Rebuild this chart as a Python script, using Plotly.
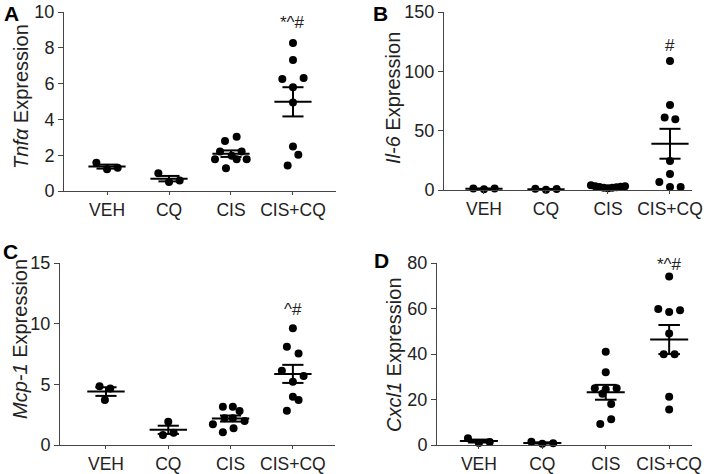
import numpy as np
import plotly.graph_objects as go

W, H = 714, 474

groups = ['VEH', 'CQ', 'CIS', 'CIS+CQ']

# panel A - Tnfa
tnfa_veh = [1.58, 1.21, 1.30]
tnfa_cq = [0.99, 0.50, 0.58]
tnfa_cis = [2.79, 3.03, 2.20, 2.20, 1.97, 1.77, 1.77, 1.77, 1.27]
tnfa_ciscq = [8.27, 7.32, 6.26, 6.31, 5.79, 4.95, 2.48, 2.03, 1.43]

# panel B - Il-6
il6_veh = [1.2, 0.6, 1.2]
il6_cq = [1.0, 0.3, 0.8]
il6_cis = [4.0, 3.2, 2.6, 2.0, 1.5, 1.8, 2.4, 2.8, 3.2]
il6_ciscq = [108.7, 71.6, 61.2, 59.6, 24.4, 13.5, 6.7, 2.5, 2.5]

# panel C - Mcp-1
mcp1_veh = [4.85, 4.66, 3.70]
mcp1_cq = [1.92, 0.82, 1.01]
mcp1_cis = [3.16, 3.16, 2.80, 1.70, 2.20, 2.20, 1.98, 1.05, 1.38]
mcp1_ciscq = [9.62, 8.09, 7.54, 6.11, 5.21, 5.68, 3.98, 3.70, 2.82]

# panel D - Cxcl1
cxcl1_veh = [3.0, 0.9, 1.3]
cxcl1_cq = [1.4, 0.5, 0.8]
cxcl1_cis = [41.0, 32.0, 25.0, 24.5, 25.0, 22.5, 18.0, 11.3, 9.2]
cxcl1_ciscq = [74.1, 59.8, 58.5, 59.2, 49.0, 39.9, 39.9, 21.2, 15.6]

# horizontal spread of the dots (in dot widths)
jit_a = [[-1, 0, 1], [-1, 0, 1],
         [-0.56, 0.53, -1.03, 1.0, 0.07, -1.5, 0.53, 1.47, -0.47],
         [0, 0, -1, 1, 0, 0, 0, 0.5, -0.5]]
jit_b = [[-1, 0, 1], [-1, 0, 1],
         [-1.6, -1.2, -0.8, -0.4, 0, 0.4, 0.8, 1.2, 1.6],
         [0, 0, -0.5, 0.5, 0, 0, -1, 0, 1]]
jit_c = [[-0.6, 0.4, -0.1], [0, -0.5, 0.5],
         [-0.72, 0.21, 0.84, -1.65, -0.56, 0.21, 1.31, -0.72, 0.28],
         [0, -0.56, 0.53, -1.03, 0, 1.0, 0, 0.53, -0.56]]
jit_d = [[-1, 0, 1], [-1, 0, 1],
         [0, 0, -1, 0, 1, -0.3, 0.5, 0.5, -0.5],
         [0, -1, 0, 1, 0, -0.5, 0.5, 0, 0]]

panels = [
    dict(data=[tnfa_veh, tnfa_cq, tnfa_cis, tnfa_ciscq], jit=jit_a,
         title='<i>Tnfα</i> Expression', yrange=[0, 10], dtick=2,
         xpx=(64, 336), ypx=(12, 191), xr=[-0.694, 3.694],
         letter='A', lpos=(11, 13), tpos=(21, 97), star='*^#', stary=9.4),
    dict(data=[il6_veh, il6_cq, il6_cis, il6_ciscq], jit=jit_b,
         title='<i>Il-6</i> Expression', yrange=[0, 150], dtick=50,
         xpx=(444, 692), ypx=(12, 190), xr=[-0.645, 3.355],
         letter='B', lpos=(380, 13), tpos=(393, 98), star='#', stary=122),
    dict(data=[mcp1_veh, mcp1_cq, mcp1_cis, mcp1_ciscq], jit=jit_c,
         title='<i>Mcp-1</i> Expression', yrange=[0, 15], dtick=5,
         xpx=(60, 335), ypx=(263, 445), xr=[-0.738, 3.676],
         letter='C', lpos=(10, 251), tpos=(20, 339), star='^#', stary=11.2),
    dict(data=[cxcl1_veh, cxcl1_cq, cxcl1_cis, cxcl1_ciscq], jit=jit_d,
         title='<i>Cxcl1</i> Expression', yrange=[0, 80], dtick=20,
         xpx=(437, 692), ypx=(263, 445), xr=[-0.66, 3.36],
         letter='D', lpos=(381, 260), tpos=(394, 355), star='*^#', stary=79.5),
]

STEP = 0.172
FONT = 'Liberation Sans, Arial, sans-serif'
AXC = '#444444'
TXT = '#222222'

fig = go.Figure()
annotations = []
layout = {}

for k, p in enumerate(panels):
    n = '' if k == 0 else str(k + 1)
    xa, ya = 'x' + n, 'y' + n
    for i, vals in enumerate(p['data']):
        xs = [i + j * STEP for j in p['jit'][i]]
        fig.add_scatter(x=xs, y=vals, mode='markers', xaxis=xa, yaxis=ya,
                        marker=dict(color='black', size=8), showlegend=False,
                        cliponaxis=False, hoverinfo='skip')
        m = np.mean(vals)
        sem = np.std(vals, ddof=1) / np.sqrt(len(vals))
        lx, ly = [], []
        lx += [i - 0.3, i + 0.3, None]
        ly += [m, m, None]
        lx += [i - 0.17, i + 0.17, None, i - 0.17, i + 0.17, None, i, i]
        ly += [m + sem, m + sem, None, m - sem, m - sem, None, m - sem, m + sem]
        fig.add_scatter(x=lx, y=ly, mode='lines', xaxis=xa, yaxis=ya,
                        line=dict(color='black', width=2), showlegend=False,
                        cliponaxis=False, hoverinfo='skip')

    x0, x1 = p['xpx']
    yt, yb = p['ypx']
    layout['xaxis' + n] = dict(
        domain=[x0 / W, x1 / W], range=p['xr'], anchor=ya, automargin=False,
        tickvals=[0, 1, 2, 3], ticktext=groups, showline=True, linecolor=AXC,
        linewidth=1, ticks='outside', ticklen=3, tickcolor=AXC, showgrid=False,
        zeroline=False, tickfont=dict(size=17.5, color=TXT, family=FONT))
    layout['yaxis' + n] = dict(
        domain=[1 - yb / H, 1 - yt / H], range=p['yrange'], dtick=p['dtick'],
        anchor=xa, automargin=False, showline=True, linecolor=AXC, linewidth=1,
        ticks='outside', ticklen=5, tickcolor=AXC, showgrid=False,
        zeroline=False, tickfont=dict(size=18, color=TXT, family=FONT))

    annotations.append(dict(text=p['title'], xref='paper', yref='paper',
                            x=p['tpos'][0] / W, y=1 - p['tpos'][1] / H,
                            xanchor='center', yanchor='middle',
                            textangle=-90, showarrow=False,
                            font=dict(size=20, color=TXT, family=FONT)))
    annotations.append(dict(text='<b>%s</b>' % p['letter'], xref='paper',
                            yref='paper', x=p['lpos'][0] / W,
                            y=1 - p['lpos'][1] / H, xanchor='center',
                            yanchor='middle', showarrow=False,
                            font=dict(size=21, color='black', family=FONT)))
    annotations.append(dict(text=p['star'], xref=xa, yref=ya, x=3,
                            y=p['stary'], showarrow=False,
                            font=dict(size=17, color=TXT, family=FONT)))

fig.update_layout(width=W, height=H, margin=dict(l=0, r=0, t=0, b=0),
                  plot_bgcolor='white', paper_bgcolor='white',
                  annotations=annotations, **layout)

# page has a default 8px body margin, drop it so the figure sits at 0,0
fig.write_html("out.html", config={'displayModeBar': False},
               post_script="document.body.style.margin='0';")
